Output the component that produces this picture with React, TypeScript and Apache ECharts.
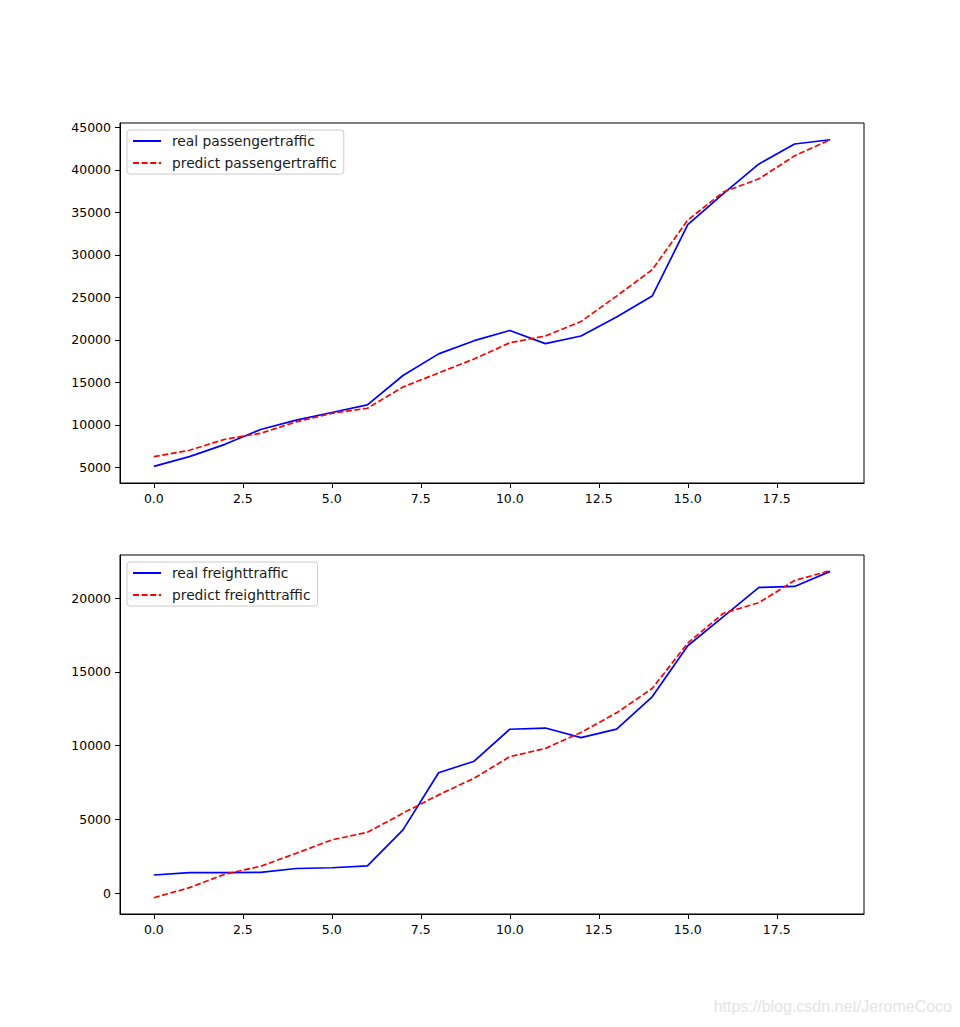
import React, { useEffect, useRef } from "react";
import * as echarts from "echarts";

const xIndex = [0, 1, 2, 3, 4, 5, 6, 7, 8, 9, 10, 11, 12, 13, 14, 15, 16, 17, 18, 19];
const realPassenger = [5100, 6250, 7700, 9450, 10550, 11450, 12340, 15800, 18350, 19900, 21100, 19550, 20450, 22700, 25150, 33550, 37200, 40700, 43050, 43550];
const predictPassenger = [6250, 7000, 8300, 9000, 10350, 11350, 11950, 14450, 16100, 17750, 19650, 20450, 22150, 25150, 28250, 34100, 37400, 38950, 41650, 43550];
const realFreight = [1240, 1400, 1400, 1420, 1680, 1730, 1860, 4300, 8170, 8950, 11120, 11200, 10550, 11130, 13320, 16780, 18750, 20730, 20800, 21820];
const predictFreight = [-300, 380, 1300, 1830, 2710, 3620, 4130, 5430, 6670, 7800, 9260, 9820, 10900, 12230, 13880, 16960, 18980, 19700, 21200, 21870];
const xTicks = [0, 2.5, 5, 7.5, 10, 12.5, 15, 17.5];
const yTicksTop = [5000, 10000, 15000, 20000, 25000, 30000, 35000, 40000, 45000];
const yTicksBottom = [0, 5000, 10000, 15000, 20000];
const legendTop = ["real passengertraffic", "predict passengertraffic"];
const legendBottom = ["real freighttraffic", "predict freighttraffic"];

const FONT = "DejaVu Sans";

function pairs(ys: number[]) {
  return xIndex.map((x, i) => [x, ys[i]]);
}

export default function App() {
  const ref = useRef<HTMLDivElement>(null);
  useEffect(() => {
    if (!ref.current) return;
    const chart = echarts.init(ref.current, null, { renderer: "svg" });
    const xAxisBase = (gridIndex: number) => ({
      type: "value",
      gridIndex,
      min: -0.95,
      max: 19.95,
      splitLine: { show: false },
      axisLine: { show: true, onZero: false, lineStyle: { color: "#000", width: 1 } },
      axisTick: { show: true, length: 5, customValues: xTicks, lineStyle: { color: "#000" } },
      axisLabel: {
        customValues: xTicks,
        margin: 9,
        color: "#000",
        fontFamily: FONT,
        fontSize: 12.5,
        formatter: (v: number) => v.toFixed(1),
      },
    });
    const yAxisBase = (gridIndex: number, min: number, max: number, ticks: number[]) => ({
      type: "value",
      gridIndex,
      min,
      max,
      splitLine: { show: false },
      axisLine: { show: true, onZero: false, lineStyle: { color: "#000", width: 1 } },
      axisTick: { show: true, length: 5, customValues: ticks, lineStyle: { color: "#000" } },
      axisLabel: {
        customValues: ticks,
        margin: 9,
        color: "#000",
        fontFamily: FONT,
        fontSize: 12.5,
        formatter: (v: number) => String(v),
      },
    });
    const legendBase = (data: string[], top: number) => ({
      data,
      orient: "vertical",
      left: 127,
      top,
      itemWidth: 28,
      itemHeight: 14,
      itemGap: 8,
      padding: [4, 7, 4, 5],
      backgroundColor: "rgba(255,255,255,0.8)",
      borderColor: "#cccccc",
      borderWidth: 1,
      borderRadius: 3,
      itemStyle: { opacity: 0, color: "transparent", borderWidth: 0 },
      textStyle: { fontFamily: FONT, fontSize: 13.8, color: "#1a1a1a", padding: [0, 0, 0, 6] },
      selectedMode: false,
    });
    const line = (name: string, data: number[], idx: number, color: string, dashed: boolean) => ({
      type: "line",
      name,
      xAxisIndex: idx,
      yAxisIndex: idx,
      data: pairs(data),
      symbol: "none",
      showSymbol: false,
      lineStyle: { color, width: 1.7, type: dashed ? [6, 2.6] : "solid" },
      itemStyle: { color },
      silent: true,
    });
    chart.setOption({
      animation: false,
      backgroundColor: "#ffffff",
      grid: [
        { left: 120, top: 123, width: 744, height: 360, show: true, borderColor: "#000", borderWidth: 1, backgroundColor: "transparent" },
        { left: 120, top: 555, width: 744, height: 359, show: true, borderColor: "#000", borderWidth: 1, backgroundColor: "transparent" },
      ],
      xAxis: [xAxisBase(0), xAxisBase(1)],
      yAxis: [
        yAxisBase(0, 3150, 45520, yTicksTop),
        yAxisBase(1, -1405, 22930, yTicksBottom),
      ],
      legend: [legendBase(legendTop, 130), legendBase(legendBottom, 562)],
      series: [
        line(legendTop[0], realPassenger, 0, "#0000ff", false),
        line(legendTop[1], predictPassenger, 0, "#ff0000", true),
        line(legendBottom[0], realFreight, 1, "#0000ff", false),
        line(legendBottom[1], predictFreight, 1, "#ff0000", true),
      ],
      graphic: [
        {
          type: "text",
          right: 8,
          top: 998,
          style: {
            text: "https://blog.csdn.net/JeromeCoco",
            fill: "#e4e4e4",
            font: "16px 'Liberation Sans', Arial, sans-serif",
          },
        },
      ],
    });
    return () => chart.dispose();
  }, []);
  return (
    <div
      ref={ref}
      style={{ position: "absolute", left: 0, top: 0, width: 960, height: 1027 }}
    />
  );
}
